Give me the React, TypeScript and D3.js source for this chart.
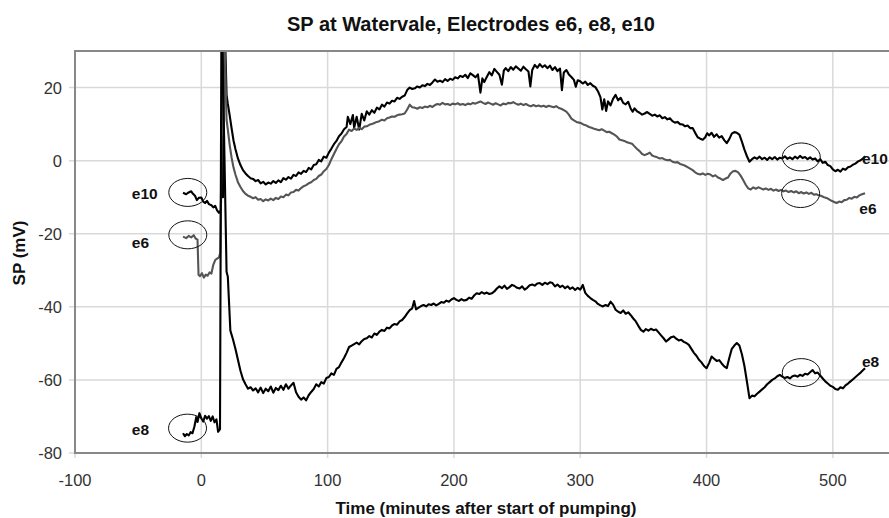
import React from "react";
import * as d3 from "d3";

const title = "SP at Watervale, Electrodes e6, e8, e10";
const xLabel = "Time (minutes after start of pumping)";
const yLabel = "SP (mV)";
const xTicks = [-100, 0, 100, 200, 300, 400, 500];
const yTicks = [-80, -60, -40, -20, 0, 20];

// [minutes, mV]
const e10: [number, number][] = [
  [-14.5,-8.8],[-12,-9.2],[-10,-8.7],[-8,-8.4],[-7,-8.9],[-5,-9.6],[-3.5,-10.8],[-2,-10.2],[0,-10.1],[1.5,-11.2],[3,-11.6],[4.5,-11.0],[6,-11.9],[8,-12.2],[9.5,-12.8],[11,-12.4],[12.5,-13.6],[14,-14.3],[15.5,-13.5],[16.5,6.6],[17.2,-10],[18,45],[20,18],
  [21,15.5],[22.5,12.3],[24,8.8],[25.5,5.5],[27,3.2],[29,0.6],[31,-1.2],[33,-2.6],[35,-3.5],[37,-4.2],[39,-4.8],[41,-5.0],[43,-5.6],[45,-5.3],[47,-6.2],[49,-5.8],[51,-6.5],[53,-6.0],[55,-6.3],[57,-5.6],[59,-6.1],[61,-5.4],[63,-5.9],[65,-4.8],[67,-5.2],[69,-4.5],[71,-4.9],[73,-3.9],[75,-4.2],[77,-3.2],[79,-3.6],[81,-2.8],[83,-3.1],[85,-2.0],[87,-2.4],[89,-1.2],[91,-1.0],[93,0.2],[95,-0.2],[97,1.1],[99,0.8],[101,2.2],[103,3.3],[105,4.5],[107,5.4],[109,6.7],[111,7.4],[113,8.6],[115,9.2],
  [116,12],[118,10],[120,12.5],[121,9],[123,12],[125,8.5],[127,12.8],[129,11],[131,13.5],[133,12.6],[135,13.8],[137,13.1],[139,14.5],[141,14.0],[143,15.3],[145,14.8],[147,15.9],[149,15.6],[151,16.4],[153,16.2],[155,17.2],[157,16.9],[159,17.5],[161,17.8],[163,19.3],[165,20.0],[167,19.6],[169,19.8],[171,20.3],[173,20.0],[175,20.6],[177,20.4],[179,21.0],[181,20.7],[183,21.4],[185,22.2],[187,21.6],[189,21.9],[191,21.5],[193,22.3],[195,21.8],[197,22.4],[199,22.1],[201,22.8],[203,22.5],[205,23.2],[207,22.9],[209,23.5],[211,22.6],[213,23.9],[215,23.4],[217,22.8],[219,23.6],[221,18.6],[222.5,22.5],[224,21.5],[226,22.9],[228,24.2],[230,23.3],[232,25.1],[234,24.3],[236,23.5],[238,20.8],[239.5,24.6],[241,25.3],[243,24.5],[245,25.6],[247,24.9],[249,25.8],[251,25.2],[253,24.6],[255,25.7],[257,25.0],[259,24.4],[260.5,20.3],[262,24.8],[264,26.2],[266,25.4],[268,26.4],[270,25.6],[272,26.1],[274,25.3],[276,26.0],[278,24.8],[280,25.6],[282,24.5],[284,25.2],[285.5,19.3],[287,24.1],[289,24.8],[291,23.6],[293,22.9],[295,22.1],[296.5,20.2],[298,22.0],[300,21.7],[302,21.1],[304,21.6],[306,20.7],[308,21.2],[310,20.5],[312,20.1],[314,19.0],[316,17.4],[317.5,14.0],[319,16.8],[320.5,13.6],[322,16.2],[324,15.1],[326,16.9],[328,18.0],[330,16.5],[332,17.2],[334,15.8],[336,15.4],[338,16.1],[340,14.2],[341.5,13.4],[343,14.3],[345,13.5],[347,13.1],[349,12.6],[351,12.9],[353,13.3],[355,12.8],[357,12.3],[359,12.6],[361,12.1],[363,12.4],[365,11.6],[367,11.9],[369,11.3],[371,11.6],[373,10.8],[375,10.4],[377,10.6],[379,10.0],[381,9.9],[383,9.4],[385,9.6],[387,8.9],[389,8.9],[391,7.6],[393,6.4],[395,6.0],[397,5.7],[399,6.4],[400.5,7.5],[402,6.9],[404,7.6],[406,6.5],[408,7.2],[410,6.3],[412,6.7],[414,5.6],[416,4.8],[418,5.9],[420,7.4],[422,7.8],[424,7.6],[426,7.1],[428,5.2],[430,3.0],[432,1.2],[434,-0.3],[436,0.4],[438,0.9],[440,0.5],[442,1.1],[444,0.4],[446,0.8],[448,0.2],[450,0.9],[452,0.4],[454,1.0],[456,0.3],[458,0.8],[460,0.6],[462,1.2],[464,0.5],[466,0.9],[468,0.4],[470,1.1],[472,0.6],[474,1.3],[476,0.7],[478,1.0],[480,0.4],[482,0.9],[484,0.3],[486,0.6],[488,-0.2],[490,0.4],[492,-0.6],[494,-0.3],[496,-1.2],[498,-1.5],[500,-2.4],[502,-2.9],[504,-2.5],[506,-3.0],[508,-2.2],[510,-2.5],[512,-1.8],[514,-1.6],[516,-1.1],[518,-0.8],[520,-0.2],[522,0.1],[524,0.6],[525.5,1.2]
];

const e6: [number, number][] = [
  [-14.5,-20.8],[-12,-21.2],[-10,-20.6],[-8,-21.0],[-6,-20.4],[-4.5,-21.3],[-3,-21.6],[-2.2,-31.2],[-1,-31.6],[0.5,-30.8],[2,-32.0],[3.5,-31.2],[5,-31.5],[6.5,-30.6],[8,-30.9],[9.5,-28.5],[11,-27.2],[12.5,-26.8],[14,-26.5],[15,-25.2],[17.5,45],[20,11.2],
  [21,8.5],[22.5,4.2],[24,0.8],[25.5,-1.9],[27,-3.8],[29,-5.9],[31,-7.2],[33,-8.3],[35,-9.1],[37,-9.6],[39,-9.9],[41,-10.3],[43,-10.0],[45,-10.7],[47,-10.5],[49,-11.1],[51,-10.6],[53,-10.9],[55,-10.4],[57,-10.8],[59,-10.2],[61,-10.5],[63,-9.8],[65,-10.0],[67,-9.3],[69,-9.5],[71,-8.7],[73,-8.6],[75,-8.0],[77,-8.2],[79,-7.5],[81,-7.0],[83,-6.7],[85,-6.2],[87,-5.9],[89,-5.3],[91,-5.0],[93,-4.2],[95,-3.8],[97,-2.9],[99,-2.3],[101,-1.2],[103,0.4],[105,1.8],[107,3.2],[109,4.5],[111,5.3],[113,6.6],[115,7.3],[117,8.5],[119,8.1],[121,8.8],[123,8.4],[125,9.0],[127,8.6],[129,9.3],[131,9.4],[133,9.8],[135,10.0],[137,10.3],[139,10.6],[141,10.8],[143,11.2],[145,11.0],[147,11.6],[149,11.8],[151,12.1],[153,12.0],[155,12.4],[157,12.6],[159,12.7],[161,12.9],[163,14.0],[165,15.3],[167,14.6],[169,14.5],[171,14.2],[173,14.6],[175,14.4],[177,14.8],[179,14.6],[181,15.0],[183,14.7],[185,15.2],[187,15.5],[189,15.3],[191,15.8],[193,15.4],[195,15.5],[197,15.2],[199,15.6],[201,15.4],[203,15.7],[205,15.3],[207,15.5],[209,15.2],[211,15.6],[213,15.4],[215,15.8],[217,15.6],[219,15.9],[221,16.2],[223,15.8],[225,15.5],[227,15.9],[229,15.6],[231,15.3],[233,15.7],[235,15.4],[237,15.1],[239,15.6],[241,15.4],[243,15.8],[245,15.7],[247,16.0],[249,15.6],[251,15.3],[253,15.6],[255,15.2],[257,15.5],[259,15.1],[261,14.9],[263,15.2],[265,14.9],[267,15.1],[269,14.8],[271,15.0],[273,14.7],[275,15.0],[277,14.8],[279,14.6],[281,14.9],[283,14.4],[285,14.2],[287,13.8],[289,13.4],[291,12.6],[293,11.5],[295,11.0],[297,10.6],[299,10.4],[301,10.2],[303,9.8],[305,9.6],[307,9.2],[309,9.0],[311,8.7],[313,8.5],[315,8.3],[317,8.6],[319,8.2],[321,7.8],[323,7.9],[325,7.5],[327,7.1],[329,6.6],[331,5.8],[333,5.6],[335,5.4],[337,5.0],[339,4.8],[341,4.6],[343,3.9],[345,3.2],[347,2.6],[349,1.8],[351,1.5],[353,1.8],[355,2.2],[357,1.4],[359,1.1],[361,0.9],[363,0.6],[365,0.7],[367,0.3],[369,0.1],[371,0.2],[373,-0.3],[375,-0.5],[377,-0.4],[379,-0.9],[381,-1.1],[383,-1.4],[385,-1.8],[387,-2.2],[389,-2.6],[391,-3.2],[393,-3.6],[395,-3.8],[397,-3.5],[399,-3.9],[401,-3.6],[403,-3.8],[405,-4.3],[407,-4.0],[409,-4.6],[411,-4.9],[413,-5.3],[415,-4.9],[417,-4.6],[419,-3.5],[421,-2.9],[423,-2.8],[425,-3.2],[427,-4.1],[429,-5.3],[431,-6.6],[433,-7.6],[435,-7.9],[437,-7.3],[439,-7.7],[441,-7.3],[443,-7.6],[445,-7.9],[447,-7.6],[449,-8.0],[451,-7.7],[453,-8.2],[455,-7.9],[457,-8.3],[459,-8.0],[461,-8.4],[463,-8.2],[465,-8.6],[467,-8.3],[469,-8.7],[471,-8.4],[473,-8.9],[475,-8.6],[477,-9.0],[479,-8.7],[481,-9.1],[483,-8.8],[485,-9.3],[487,-9.2],[489,-9.5],[491,-9.7],[493,-10.0],[495,-10.2],[497,-10.6],[499,-11.0],[501,-11.3],[503,-11.6],[505,-11.2],[507,-11.4],[509,-10.8],[511,-10.7],[513,-10.2],[515,-10.4],[517,-9.9],[519,-10.1],[521,-9.5],[523,-9.2],[525.5,-8.9]
];

const e8: [number, number][] = [
  [-14.5,-74.6],[-13,-75.4],[-11.5,-74.8],[-10,-75.2],[-8.5,-74.3],[-7,-74.6],[-5.5,-72.8],[-4,-70.2],[-3,-71.5],[-1.5,-69.1],[0,-70.5],[1.5,-71.4],[3,-69.8],[4.5,-70.6],[6,-69.9],[7.5,-71.2],[9,-70.0],[10.5,-71.6],[12,-70.8],[13.3,-74.2],[14.8,-73.5],[16,45],[20,-30.4],
  [21,-31.8],[23,-46.5],[25,-48.8],[27,-51.5],[29,-54.5],[31,-57.5],[33,-59.8],[35,-61.2],[37,-62.4],[39,-62.0],[41,-62.9],[43,-62.3],[45,-63.4],[47,-62.1],[49,-63.6],[51,-62.4],[53,-63.1],[55,-61.8],[57,-63.5],[59,-62.2],[61,-62.8],[63,-61.6],[65,-62.7],[67,-61.2],[69,-62.4],[71,-61.5],[73,-60.8],[75,-63.4],[77,-64.6],[79,-65.4],[81,-64.8],[83,-65.6],[85,-64.2],[87,-63.3],[89,-62.5],[91,-61.2],[93,-61.8],[95,-60.6],[97,-61.0],[99,-59.5],[101,-59.2],[103,-58.2],[105,-58.6],[107,-57.0],[109,-56.5],[111,-55.2],[113,-54.0],[115,-52.6],[117,-51.0],[119,-50.6],[121,-50.2],[123,-49.8],[125,-50.3],[127,-49.4],[129,-48.8],[131,-48.6],[133,-48.0],[135,-48.4],[137,-47.3],[139,-47.7],[141,-46.8],[143,-46.3],[145,-46.6],[147,-45.7],[149,-45.9],[151,-45.1],[153,-44.7],[155,-44.9],[157,-44.0],[159,-43.6],[161,-42.8],[163,-41.8],[165,-40.9],[167,-40.4],[168.5,-38.4],[170,-40.7],[172,-40.2],[174,-39.8],[176,-39.5],[178,-39.9],[180,-39.3],[182,-39.5],[184,-39.1],[186,-39.6],[188,-39.2],[190,-38.7],[192,-38.9],[194,-38.3],[196,-38.6],[198,-38.0],[200,-37.6],[202,-38.1],[204,-38.4],[206,-37.9],[208,-38.3],[210,-38.1],[212,-37.5],[214,-37.8],[216,-36.9],[218,-36.3],[220,-36.5],[222,-36.0],[224,-36.4],[226,-36.1],[228,-36.5],[230,-36.3],[232,-35.8],[234,-35.0],[236,-34.4],[238,-34.9],[240,-34.2],[242,-35.1],[244,-34.6],[246,-34.0],[248,-34.3],[250,-34.8],[252,-35.0],[254,-34.4],[256,-35.3],[258,-34.8],[260,-34.1],[262,-33.9],[264,-34.2],[266,-33.6],[268,-33.5],[270,-34.0],[272,-33.4],[274,-33.8],[276,-33.3],[278,-33.5],[280,-34.4],[282,-33.9],[284,-34.6],[286,-34.2],[288,-34.9],[290,-34.4],[292,-35.1],[294,-34.7],[296,-35.4],[298,-34.8],[300,-35.3],[302,-34.0],[304,-36.2],[306,-37.0],[308,-37.6],[310,-38.1],[312,-38.5],[314,-39.2],[316,-39.6],[318,-39.9],[320,-39.5],[322,-39.8],[324,-38.6],[326,-39.4],[328,-40.8],[330,-41.3],[332,-41.7],[334,-41.0],[336,-41.9],[338,-41.5],[340,-42.3],[342,-43.2],[344,-44.0],[346,-45.2],[348,-46.3],[350,-46.8],[352,-46.1],[354,-46.5],[356,-46.0],[358,-46.4],[360,-46.2],[362,-47.0],[364,-47.8],[366,-48.6],[368,-49.5],[370,-48.9],[372,-48.3],[374,-48.1],[376,-48.7],[378,-49.2],[380,-49.0],[382,-49.6],[384,-49.9],[386,-50.4],[388,-51.5],[390,-52.6],[392,-53.4],[394,-54.5],[396,-55.2],[398,-56.2],[400,-56.8],[402,-55.4],[404,-53.6],[406,-54.2],[408,-54.8],[410,-54.6],[412,-55.5],[414,-56.3],[416,-56.8],[418,-54.0],[420,-51.5],[422,-50.6],[424,-49.9],[426,-50.6],[428,-53.0],[430,-56.2],[432,-60.5],[434,-65.0],[436,-64.3],[438,-64.5],[440,-63.8],[442,-63.2],[444,-62.6],[446,-62.0],[448,-61.2],[450,-60.6],[452,-60.0],[454,-59.6],[456,-59.0],[458,-58.6],[460,-59.1],[462,-59.5],[464,-59.2],[466,-59.6],[468,-59.0],[470,-58.8],[472,-59.1],[474,-58.6],[476,-58.9],[478,-58.3],[480,-58.5],[482,-57.9],[484,-57.3],[486,-58.2],[488,-58.0],[490,-58.8],[492,-59.6],[494,-60.4],[496,-61.0],[498,-61.6],[500,-61.9],[502,-62.5],[504,-62.7],[506,-62.0],[508,-62.3],[510,-61.5],[512,-61.0],[514,-60.4],[516,-59.8],[518,-59.2],[520,-58.6],[522,-58.0],[524,-57.3],[525.5,-56.8]
];

const seriesNames = ["e10", "e6", "e8"];
const seriesData = [e10, e6, e8];
const seriesColors = ["#000000", "#555555", "#000000"];

// label text, anchor time, anchor value
const leftLabels: [string, number, number][] = [["e10", -55, -10.4], ["e6", -55, -24.0], ["e8", -55, -75.2]];
const rightLabels: [string, number, number][] = [["e10", 523, -0.8], ["e6", 521, -14.5], ["e8", 523, -56.6]];
// circled regions: center time, center value
const circles: [number, number][] = [[-10.7, -8.7], [-10.7, -20.3], [-10.9, -73.2], [475, 1.0], [474.5, -9.0], [475, -58.0]];

export default function App() {
  const W = 889, H = 518;
  const x = d3.scaleLinear().domain([-100, 550]).range([75, 896]);
  const y = d3.scaleLinear().domain([-80, 30]).range([453, 51]);
  const line = d3.line<[number, number]>().x((d) => x(d[0])).y((d) => y(d[1]));
  const font = "'Liberation Sans', Arial, sans-serif";
  const left = x(-100), right = x(550), top = y(30), bottom = y(-80);
  return (
    <div style={{ position: "absolute", left: 0, top: 0 }}>
      <svg width={W} height={H} style={{ display: "block", background: "#fff" }} fontFamily={font}>
        <defs>
          <clipPath id="plot">
            <rect x={left} y={top} width={right - left} height={bottom - top} />
          </clipPath>
        </defs>
        {xTicks.slice(1).map((t) => (
          <line key={"gx" + t} x1={x(t)} x2={x(t)} y1={top} y2={bottom + 5} stroke="#d9d9d9" strokeWidth={1.5} />
        ))}
        {yTicks.slice(1).map((t) => (
          <line key={"gy" + t} x1={left - 6} x2={right} y1={y(t)} y2={y(t)} stroke="#d9d9d9" strokeWidth={1.5} />
        ))}
        <line x1={left - 6} x2={left} y1={bottom} y2={bottom} stroke="#d9d9d9" strokeWidth={1.5} />
        <line x1={left} x2={left} y1={bottom} y2={bottom + 5} stroke="#d9d9d9" strokeWidth={1.5} />
        <g clipPath="url(#plot)">
          {seriesData.map((d, i) => (
            <path key={seriesNames[i]} d={line(d) || ""} fill="none" stroke={seriesColors[i]} strokeWidth={2.1} strokeLinejoin="round" />
          ))}
        </g>
        <rect x={left} y={top} width={right - left} height={bottom - top} fill="none" stroke="#888" strokeWidth={2} />
        {circles.map((c, i) => (
          <ellipse key={"c" + i} cx={x(c[0])} cy={y(c[1])} rx={19} ry={14} fill="none" stroke="#111" strokeWidth={1} />
        ))}
        {yTicks.map((t) => (
          <text key={"ty" + t} x={left - 13} y={y(t) + 6} textAnchor="end" fontSize={16.5} fill="#333">{t}</text>
        ))}
        {xTicks.map((t) => (
          <text key={"tx" + t} x={x(t)} y={486} textAnchor="middle" fontSize={16.5} fill="#333">{t}</text>
        ))}
        {leftLabels.map((l, i) => (
          <text key={"ll" + i} x={x(l[1])} y={y(l[2])} fontSize={15.5} fontWeight="bold" fill="#111">{l[0]}</text>
        ))}
        {rightLabels.map((l, i) => (
          <text key={"rl" + i} x={x(l[1])} y={y(l[2])} fontSize={15.5} fontWeight="bold" fill="#111">{l[0]}</text>
        ))}
        <text x={471} y={31} textAnchor="middle" fontSize={20} fontWeight="bold" fill="#111">{title}</text>
        <text x={486} y={514} textAnchor="middle" fontSize={17} fontWeight="bold" fill="#111">{xLabel}</text>
        <text transform="translate(25,253) rotate(-90)" textAnchor="middle" fontSize={17} fontWeight="bold" fill="#111">{yLabel}</text>
      </svg>
    </div>
  );
}
